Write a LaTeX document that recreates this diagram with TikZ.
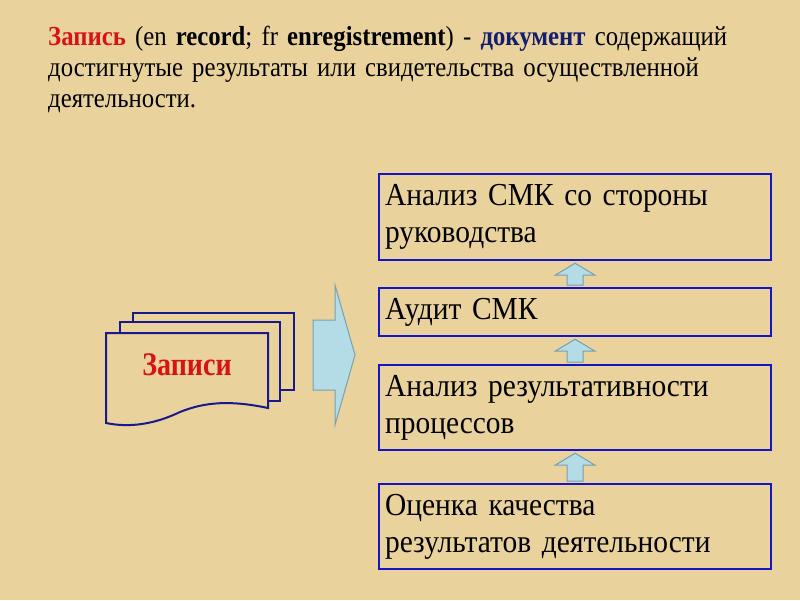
\documentclass[tikz,border=0pt]{standalone}
\usepackage{fontspec}
\setmainfont{Liberation Serif}[WordSpace=0.75]
\usetikzlibrary{shapes.arrows,calc}
\definecolor{bg}{RGB}{233,210,155}
\definecolor{bx}{RGB}{20,20,200}
\definecolor{doc}{RGB}{25,25,140}
\definecolor{arr}{RGB}{180,220,230}
\definecolor{arrb}{RGB}{120,160,175}
\definecolor{rd}{RGB}{215,20,20}
\definecolor{nv}{RGB}{20,30,110}
\tikzset{x=1pt,y=-1pt,
 stage/.style={draw=bx,line width=2.2pt,fill=bg,minimum width=390pt,anchor=north west,text width=380pt,align=left,font=\fontsize{32}{37}\selectfont\addfontfeatures{FakeStretch=0.92},inner sep=6pt},
 up/.style={draw=arrb,fill=arr,line width=1pt},
 pg/.style={draw=doc,line width=2pt,fill=bg}}
\begin{document}
\begin{tikzpicture}
\fill[bg] (0,0) rectangle (800,600);
\useasboundingbox (0,0) rectangle (800,600);
\node[anchor=north west,text width=740pt,align=left,font=\fontsize{27.5}{31}\selectfont\addfontfeatures{FakeStretch=0.9},inner sep=0] (def) at (48,26)
{\textbf{\textcolor{rd}{Запись}} (en \textbf{record}; fr \textbf{enregistrement}) - \textbf{\textcolor{nv}{документ}} содержащий\\ достигнутые результаты или свидетельства осуществленной\\ деятельности.};
\node[stage,minimum height=86pt] (b1) at (378,173) {Анализ СМК со стороны\\ руководства};
\node[stage,minimum height=48pt] (b2) at (378,287) {Аудит СМК};
\node[stage,minimum height=85pt] (b3) at (378,364) {Анализ результативности\\ процессов};
\node[stage,minimum height=85pt] (b4) at (378,483) {Оценка качества\\ результатов деятельности};
\foreach \a/\b in {b4/b3,b3/b2,b2/b1}{
 \draw[up] ($(\a.north)+(-8,-2)$) -- ($(\b.south)+(-8,14)$) -- ($(\b.south)+(-20,14)$) -- ($(\b.south)+(0,2)$) -- ($(\b.south)+(20,14)$) -- ($(\b.south)+(8,14)$) -- ($(\a.north)+(8,-2)$) -- cycle;
}
\draw[pg] (133,313) rectangle (294,390);
\draw[pg] (120,322) rectangle (280,401);
\draw[pg] (106,333) -- (268,333) -- (268,408) .. controls (230,400) and (205,402) .. (180,412) .. controls (155,424) and (130,428) .. (106,423) -- cycle;
\node[font=\fontsize{33}{36}\selectfont\bfseries\addfontfeatures{FakeStretch=0.85},text=rd] (zp) at (187,365) {Записи};
\draw[up] (313,320) -- (335,320) -- (335,285) -- (355,355) -- (335,425) -- (335,390) -- (313,390) -- cycle;
\end{tikzpicture}
\end{document}
